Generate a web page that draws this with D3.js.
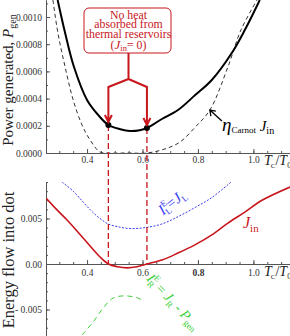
<!DOCTYPE html>
<html>
<head>
<meta charset="utf-8">
<script src="https://cdn.jsdelivr.net/npm/d3@7"></script>
<style>
  body { margin: 0; background: #fff; }
  svg { display: block; font-family: "Liberation Serif", "Times New Roman", serif; }
  .axis path, .axis line { stroke: #555; }
  .axis text { fill: #333; font-size: 9.5px; font-family: "Liberation Serif", serif; }
</style>
</head>
<body>
<div class="chart"></div>
<script>
// top panel: power generated vs T_C/T_0
var T_PGEN = [0.294, 0.321, 0.353, 0.40, 0.44, 0.477, 0.52, 0.555, 0.59, 0.616, 0.67, 0.728, 0.79, 0.85, 0.922, 0.969, 1.023];
var P_GEN  = [0.001125, 0.000882, 0.000632, 0.00039, 0.00028, 0.000206, 0.000175, 0.000162, 0.000168, 0.000184, 0.00025, 0.000316, 0.000426, 0.000537, 0.000735, 0.000904, 0.001125];

var T_ETA = [0.277, 0.295, 0.321, 0.350, 0.382, 0.411, 0.447, 0.477, 0.55, 0.616, 0.681, 0.735, 0.79, 0.843, 0.908, 0.955, 1.013];
var ETA_JIN = [0.001125, 0.000882, 0.000632, 0.00039, 0.000206, 0.0000956, 0.000007, 0, 0, 0, 0.00003, 0.00008, 0.00019, 0.000316, 0.000632, 0.000904, 0.001125];

// the two points where J_in = 0
var T_ZERO = [0.477, 0.616];
var P_DOT = [0.000206, 0.000184];

// bottom panel: energy flows
var T_JIN = [0.252, 0.29, 0.328, 0.386, 0.447, 0.477, 0.51, 0.545, 0.58, 0.616, 0.67, 0.728, 0.789, 0.85, 0.908, 0.969, 1.031, 1.132];
var J_IN  = [0.00725, 0.0060, 0.00484, 0.00286, 0.00077, 0, -0.0003, -0.00042, -0.0003, 0, 0.00044, 0.0012, 0.0021, 0.0032, 0.0045, 0.0057, 0.0070, 0.00846];

var T_JL = [0.31, 0.35, 0.386, 0.42, 0.447, 0.476, 0.51, 0.555, 0.61, 0.67, 0.728, 0.789, 0.85, 0.919];
var J_L  = [0.0090, 0.0080, 0.0068, 0.0057, 0.0050, 0.0044, 0.0041, 0.0039, 0.0040, 0.0044, 0.0052, 0.0062, 0.0073, 0.0090];

var T_JR = [0.382, 0.422, 0.458, 0.494, 0.537, 0.58, 0.602];
var J_R  = [-0.0078, -0.00637, -0.00484, -0.00374, -0.0035, -0.0037, -0.0040];

var X_TICKS = [0.4, 0.6, 0.8, 1.0];
var X_MINOR = d3.range(0.3, 1.13, 0.05);
var Y_TOP_TICKS = [0, 0.0002, 0.0004, 0.0006, 0.0008, 0.0010];
var Y_TOP_MINOR = d3.range(0, 0.00112, 0.0001);
var Y_BOT_TICKS = [-0.005, 0, 0.005];
var Y_BOT_MINOR = d3.range(-0.007, 0.0095, 0.001);

var RED = "#c8161d", BLUE = "#3c3cf0", GREEN = "#3ccf3c";

var width = 290, height = 336;

var svg = d3.select(".chart").append("svg")
  .attr("width", width)
  .attr("height", height);

var x = d3.scaleLinear().domain([0.252, 1.132]).range([46, 290]);
var yTop = d3.scaleLinear().domain([0, 0.001125]).range([153, 0]);
var yBot = d3.scaleLinear().domain([-0.00791, 0.00901]).range([336, 182]);

function zip(a, b) { return a.map(function (d, i) { return [d, b[i]]; }); }

// text with sub/superscripts
function rich(text, parts) {
  var shift = 0;
  parts.forEach(function (p) {
    var s = p.shift || 0;
    var ts = text.append("tspan").text(p.t).attr("dy", s - shift);
    if (p.dx) ts.attr("dx", p.dx);
    if (p.it) ts.style("font-style", "italic");
    if (p.size) ts.style("font-size", p.size + "px");
    shift = s;
  });
  return text;
}

var defs = svg.append("defs");
defs.append("clipPath").attr("id", "clipTop").append("rect")
  .attr("x", 46).attr("y", 0).attr("width", 244).attr("height", 153);
defs.append("clipPath").attr("id", "clipBot").append("rect")
  .attr("x", 46).attr("y", 182).attr("width", 244).attr("height", 154);

// axes
function xAxes(y0, pad, boldVal) {
  svg.append("g").attr("class", "axis")
    .attr("transform", "translate(0," + y0 + ")")
    .call(d3.axisBottom(x).tickValues(X_MINOR).tickSize(-2).tickSizeOuter(0).tickFormat(""));
  var g = svg.append("g").attr("class", "axis")
    .attr("transform", "translate(0," + y0 + ")")
    .call(d3.axisBottom(x).tickValues(X_TICKS).tickSize(-4).tickSizeOuter(0).tickPadding(pad).tickFormat(d3.format(".1f")));
  g.selectAll("text").style("font-weight", function (d) { return d === boldVal ? "bold" : null; });
  var lab = svg.append("text")
    .attr("x", 264).attr("y", y0 + 12)
    .style("font-size", "14px").attr("fill", "#222");
  rich(lab, [{t: "T", it: true}, {t: "C", size: 7, shift: 3, dx: -1}, {t: "/", shift: 0}, {t: "T", it: true}, {t: "0", size: 8, shift: 3}]);
}
xAxes(yTop(0), 3.5, null);
xAxes(yBot(0), 5, 0.8);

svg.append("g").attr("class", "axis")
  .attr("transform", "translate(46,0)")
  .call(d3.axisLeft(yTop).tickValues(Y_TOP_MINOR).tickSize(-2).tickSizeOuter(0).tickFormat(""));
svg.append("g").attr("class", "axis")
  .attr("transform", "translate(46,0)")
  .call(d3.axisLeft(yTop).tickValues(Y_TOP_TICKS).tickSize(-4).tickSizeOuter(0).tickPadding(4).tickFormat(d3.format(".4f")));

svg.append("g").attr("class", "axis")
  .attr("transform", "translate(46,0)")
  .call(d3.axisLeft(yBot).tickValues(Y_BOT_MINOR).tickSize(-2).tickSizeOuter(0).tickFormat(""));
svg.append("g").attr("class", "axis")
  .attr("transform", "translate(46,0)")
  .call(d3.axisLeft(yBot).tickValues(Y_BOT_TICKS).tickSize(-4).tickSizeOuter(0).tickPadding(4)
    .tickFormat(function (d) { return d < 0 ? "- 0.005" : d === 0 ? "0.00" : "0.005"; }));

// axis titles
rich(svg.append("text")
  .attr("transform", "translate(13,80) rotate(-90)")
  .attr("text-anchor", "middle").style("font-size", "15px").attr("fill", "#222"),
  [{t: "Power generated, "}, {t: "P", it: true}, {t: "gen", size: 10, shift: 3}]);

svg.append("text")
  .attr("transform", "translate(14,260) rotate(-90)")
  .attr("text-anchor", "middle").style("font-size", "16.5px").attr("fill", "#222")
  .text("Energy flow into dot");

// curves
var line = d3.line()
  .x(function (d) { return x(d[0]); })
  .curve(d3.curveCatmullRom);

var gTop = svg.append("g").attr("clip-path", "url(#clipTop)");
gTop.append("path")
  .attr("d", line.y(function (d) { return yTop(d[1]); })(zip(T_ETA, ETA_JIN)))
  .attr("fill", "none").attr("stroke", "#333").attr("stroke-width", 1).attr("stroke-dasharray", "4,3");
gTop.append("path")
  .attr("d", line.y(function (d) { return yTop(d[1]); })(zip(T_PGEN, P_GEN)))
  .attr("fill", "none").attr("stroke", "#000").attr("stroke-width", 2);

var gBot = svg.append("g").attr("clip-path", "url(#clipBot)");
var lineBot = line.y(function (d) { return yBot(d[1]); });
gBot.append("path")
  .attr("d", lineBot(zip(T_JL, J_L)))
  .attr("fill", "none").attr("stroke", BLUE).attr("stroke-width", 1).attr("stroke-dasharray", "2,1.5");
gBot.append("path")
  .attr("d", lineBot(zip(T_JR, J_R)))
  .attr("fill", "none").attr("stroke", GREEN).attr("stroke-width", 1).attr("stroke-dasharray", "5,4");
gBot.append("path")
  .attr("d", lineBot(zip(T_JIN, J_IN)))
  .attr("fill", "none").attr("stroke", RED).attr("stroke-width", 1.6);

// vertical dashed markers at J_in = 0
svg.selectAll(".vmark")
  .data(T_ZERO)
  .enter().append("line")
  .attr("class", "vmark")
  .attr("x1", function (d) { return x(d); })
  .attr("x2", function (d) { return x(d); })
  .attr("y1", function (d, i) { return yTop(P_DOT[i]); })
  .attr("y2", yBot(0))
  .attr("stroke", RED).attr("stroke-width", 1.3).attr("stroke-dasharray", "6,3");

svg.selectAll(".dot")
  .data(T_ZERO)
  .enter().append("circle")
  .attr("class", "dot")
  .attr("cx", function (d) { return x(d); })
  .attr("cy", function (d, i) { return yTop(P_DOT[i]); })
  .attr("r", 3)
  .attr("fill", "#000");

// annotation box
var xa = x(T_ZERO[0]), xb = x(T_ZERO[1]), xm = 128.5;
svg.append("rect")
  .attr("x", 84).attr("y", 8).attr("width", 87).attr("height", 45)
  .attr("rx", 5)
  .attr("fill", "#fff").attr("stroke", RED).attr("stroke-width", 1);

var note = svg.append("g").attr("fill", RED).attr("text-anchor", "middle").style("font-size", "11.8px");
["No heat", "absorbed from", "thermal reservoirs"].forEach(function (s, i) {
  note.append("text").attr("x", xm).attr("y", 18.5 + i * 9.6).text(s);
});
rich(note.append("text").attr("x", xm).attr("y", 48.8),
  [{t: "("}, {t: "J", it: true, size: 13}, {t: "in", size: 8.5, shift: 2}, {t: "= 0)", shift: 0}]);

var tipA = yTop(P_DOT[0]) - 3, tipB = yTop(P_DOT[1]) - 3;
svg.append("path")
  .attr("d", "M" + xm + ",53V79L" + xa + ",87V" + tipA + "M" + xm + ",79L" + xb + ",87V" + tipB +
    "M" + (xa - 3.5) + "," + (tipA - 7) + "L" + xa + "," + tipA + "L" + (xa + 3.5) + "," + (tipA - 7) +
    "M" + (xb - 3.5) + "," + (tipB - 7) + "L" + xb + "," + tipB + "L" + (xb + 3.5) + "," + (tipB - 7))
  .attr("fill", "none").attr("stroke", RED).attr("stroke-width", 2);

// eta_Carnot J_in label with arrow
var ax = x(0.843), ay = yTop(0.000316);
svg.append("path")
  .attr("d", "M" + (ax + 12) + "," + (ay + 11) + "L" + ax + "," + ay +
    "M" + (ax + 1) + "," + (ay + 6) + "L" + ax + "," + ay + "L" + (ax + 6) + "," + (ay + 1))
  .attr("fill", "none").attr("stroke", "#000").attr("stroke-width", 1.3);
rich(svg.append("text").attr("x", 222).attr("y", 131).attr("fill", "#000"),
  [{t: "η", size: 19, it: true}, {t: "Carnot", size: 9, shift: 2}, {t: " J", it: true, size: 15, shift: 0}, {t: "in", size: 10, shift: 3}]);

// bottom labels
rich(svg.append("text").attr("x", 243).attr("y", 228).attr("fill", RED),
  [{t: "J", it: true, size: 16}, {t: "in", size: 11, shift: 4}]);

rich(svg.append("text")
  .attr("transform", "translate(175,206) rotate(-38)")
  .attr("text-anchor", "middle").attr("fill", BLUE).style("font-size", "15px"),
  [{t: "I", it: true}, {t: "E", size: 9, shift: -6}, {t: "L", size: 9, shift: 3, dx: -6}, {t: "=", shift: 0}, {t: "J", it: true}, {t: "L", size: 9, shift: 3}]);

rich(svg.append("text")
  .attr("transform", "translate(170,305) rotate(47)")
  .attr("text-anchor", "middle").attr("fill", GREEN).style("font-size", "14px"),
  [{t: "I", it: true}, {t: "E", size: 9, shift: -6}, {t: "R", size: 9, shift: 3, dx: -6}, {t: " = ", shift: 0}, {t: "J", it: true}, {t: "R", size: 9, shift: 3}, {t: " - ", shift: 0}, {t: "P", it: true}, {t: "gen", size: 9, shift: 3}]);
</script>
</body>
</html>
